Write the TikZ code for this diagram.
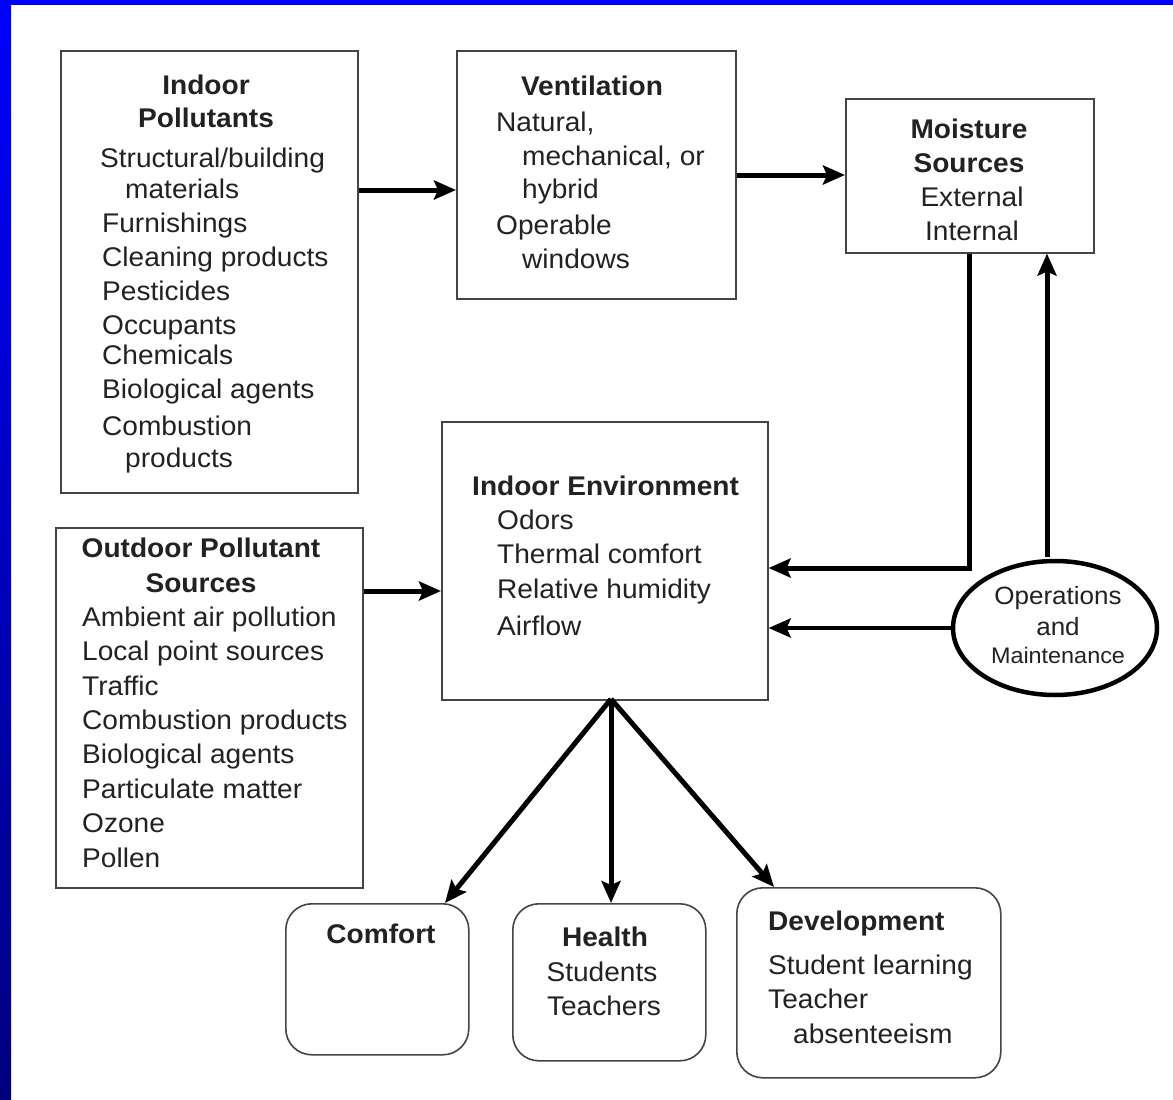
\documentclass[tikz,border=0pt]{standalone}
\usepackage{fontspec}
\setmainfont[FakeStretch=1.04]{Liberation Sans}
\usetikzlibrary{arrows.meta,shapes.geometric,calc}
\definecolor{frameblue}{RGB}{0,0,255}
\definecolor{framenavy}{RGB}{0,0,128}
\definecolor{ink}{RGB}{34,34,34}
\definecolor{edge}{RGB}{68,68,68}
\begin{document}
\begin{tikzpicture}[x=1pt,y=-1pt,
  box/.style={draw=edge,line width=1.6pt,fill=white,inner sep=0pt,anchor=north west},
  rbox/.style={box,rounded corners=26pt},
  txt/.style={text=ink,inner sep=0pt,font=\fontsize{27}{32}\selectfont},
  head/.style={txt,font=\fontsize{27}{32}\selectfont\bfseries},
  lt/.style={txt,anchor=base west},
  ct/.style={txt,anchor=base},
  hd/.style={head,anchor=base},
  hl/.style={head,anchor=base west},
  flow/.style={draw=black,line width=5pt,-{Stealth[length=22pt,width=19pt,inset=4pt]}},
]
% page and frame
\fill[white] (0,0) rectangle (1173,1100);
\useasboundingbox (0,0) rectangle (1173,1100);
\fill[frameblue] (0,0) rectangle (1173,5);
\shade[top color=frameblue,bottom color=framenavy] (0,0) rectangle (11,1100);

% boxes
\node[box,minimum width=297pt,minimum height=442pt] (ip) at (60,50) {};
\node[box,minimum width=279pt,minimum height=248pt] (vent) at (456,50) {};
\node[box,minimum width=248pt,minimum height=154pt] (moist) at (845,98) {};
\node[box,minimum width=326pt,minimum height=278pt] (env) at (441,421) {};
\node[box,minimum width=307pt,minimum height=360pt] (out) at (55,527) {};
\node[rbox,minimum width=183pt,minimum height=151pt] (comfort) at (285,903) {};
\node[rbox,minimum width=193pt,minimum height=157pt] (health) at (512,903) {};
\node[rbox,minimum width=264pt,minimum height=190pt] (dev) at (736,887) {};
\node[ellipse,draw=black,line width=4.5pt,fill=white,minimum width=204pt,minimum height=134pt,inner sep=0pt] (om) at (1055,628) {};

% Indoor Pollutants
\node[hd] (ipa) at (206,94) {Indoor};
\node[hd] (ipb) at (206,127) {Pollutants};
\node[lt] (ip1) at (100,167) {Structural/building};
\node[lt] (ip2) at (125,198) {materials};
\node[lt] (ip3) at (102,232) {Furnishings};
\node[lt] (ip4) at (102,266) {Cleaning products};
\node[lt] (ip5) at (102,300) {Pesticides};
\node[lt] (ip6) at (102,334) {Occupants};
\node[lt] (ip7) at (102,364) {Chemicals};
\node[lt] (ip8) at (102,398) {Biological agents};
\node[lt] (ip9) at (102,435) {Combustion};
\node[lt] (ip10) at (125,467) {products};

% Ventilation
\node[hd] (va) at (592,95) {Ventilation};
\node[lt] (v1) at (496,131) {Natural,};
\node[lt] (v2) at (522,165) {mechanical, or};
\node[lt] (v3) at (522,198) {hybrid};
\node[lt] (v4) at (496,234) {Operable};
\node[lt] (v5) at (522,268) {windows};

% Moisture Sources
\node[hd] (ma) at (969,138) {Moisture};
\node[hd] (mb) at (969,172) {Sources};
\node[ct] (m1) at (972,206) {External};
\node[ct] (m2) at (972,240) {Internal};

% Indoor Environment
\node[hl] (ea) at (472,495) {Indoor Environment};
\node[lt] (e1) at (497,529) {Odors};
\node[lt] (e2) at (497,563) {Thermal comfort};
\node[lt] (e3) at (497,598) {Relative humidity};
\node[lt] (e4) at (497,635) {Airflow};

% Outdoor Pollutant Sources
\node[hd] (oa) at (201,557) {Outdoor Pollutant};
\node[hd] (ob) at (201,592) {Sources};
\node[lt] (o1) at (82,626) {Ambient air pollution};
\node[lt] (o2) at (82,660) {Local point sources};
\node[lt] (o3) at (82,695) {Traffic};
\node[lt] (o4) at (82,729) {Combustion products};
\node[lt] (o5) at (82,763) {Biological agents};
\node[lt] (o6) at (82,798) {Particulate matter};
\node[lt] (o7) at (82,832) {Ozone};
\node[lt] (o8) at (82,867) {Pollen};

% Operations and Maintenance
\node[txt,anchor=base,font=\fontsize{25}{30}\selectfont] (om1) at (1058,604) {Operations};
\node[txt,anchor=base,font=\fontsize{25}{30}\selectfont] (om2) at (1058,635) {and};
\node[txt,anchor=base,font=\fontsize{22.5}{27}\selectfont] (om3) at (1058,663) {Maintenance};

% outcomes
\node[hd] (ca) at (381,943) {Comfort};
\node[hd] (ha) at (605,946) {Health};
\node[ct] (h1) at (602,981) {Students};
\node[ct] (h2) at (604,1015) {Teachers};
\node[hl] (da) at (768,930) {Development};
\node[lt] (d1) at (768,974) {Student learning};
\node[lt] (d2) at (768,1008) {Teacher};
\node[lt] (d3) at (793,1043) {absenteeism};

% connector waypoints
\coordinate (r190) at (0,190);
\coordinate (r175) at (0,175);
\coordinate (r591) at (0,591);
\coordinate (r568) at (0,568);
\coordinate (c969) at (969,0);
\coordinate (c1047) at (1047,0);
\coordinate (bend) at (969,568);
\coordinate (apex) at (611,699);
\coordinate (tc) at (445,903);
\coordinate (th) at (611,903);
\coordinate (td) at (774,887);

% connectors
\draw[flow] (ip.east |- r190) -- (vent.west |- r190);
\draw[flow] (vent.east |- r175) -- (moist.west |- r175);
\draw[flow] (out.east |- r591) -- (env.west |- r591);
\draw[flow] (moist.south -| c969) -- (bend) -- (env.east |- r568);
\draw[flow] ([yshift=2pt]om.north -| c1047) -- (moist.south -| c1047);
\draw[flow,line width=4pt] (om.west) -- (om.west -| env.east);
\draw[flow] (apex) -- (tc);
\draw[flow] (apex) -- (th);
\draw[flow] (apex) -- (td);
\end{tikzpicture}
\end{document}
